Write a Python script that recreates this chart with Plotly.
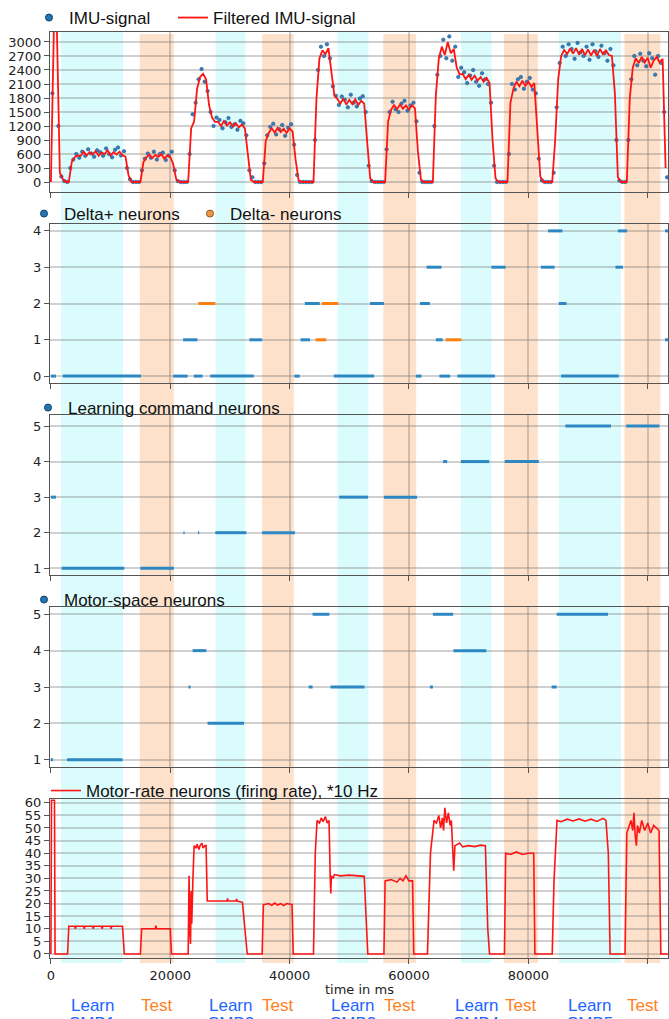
import plotly.graph_objects as go

W, H = 669, 1019

# ---------------- data ----------------
# IMU signal, filtered (sampled every 500 ms from 0 ms)
imu_filtered = [
    0, 3300, 3300, 200, 60, 0, 0, 430, 530, 570,
    560, 650, 570, 640, 590, 660, 560, 630, 600, 680, 570, 640, 590, 650, 580,
    540, 150, 0, 0, 0, 0,
    420, 530, 590, 510, 580, 540, 600, 500, 570, 540, 380, 60,
    0, 0, 0, 0,
    1150, 1300, 2000, 2250, 2320, 2200, 1650, 1380, 1290,
    1290, 1200, 1310, 1210, 1280, 1190, 1260, 1170, 1230, 1150,
    600, 50, 0, 0, 0, 0,
    880, 1050, 1150, 1060, 1160, 1070, 1140, 1050, 1150, 1080,
    480, 40, 0, 0, 0, 0, 0,
    1800, 2650, 2820, 2740, 2870, 2350, 1850,
    1780, 1680, 1790, 1660, 1760, 1670, 1770, 1650, 1740, 1680,
    850, 80, 0, 0, 0, 0, 0,
    1300, 1550, 1650, 1560, 1660, 1570, 1640, 1550, 1650, 1580,
    650, 50, 0, 0, 0, 0,
    1850, 2650, 2900, 2720, 3000, 2760, 2850, 2450, 2300,
    2320, 2200, 2300, 2190, 2280, 2170, 2250, 2150, 2230, 2120,
    900, 80, 0, 0, 0, 0,
    1700, 2000, 2150, 2050, 2170, 2060, 2150, 2040, 2120,
    1200, 120, 0, 0, 0, 0,
    900, 2200, 2700, 2830, 2740, 2860, 2750, 2870, 2730, 2850,
    2720, 2840, 2710, 2830, 2700, 2850, 2740, 2820, 2720, 2700,
    1900, 100, 0, 0, 0,
    1800, 2450, 2650, 2550, 2680, 2560, 2660, 2450, 2600, 2680, 2560, 2640, 300,
]
# IMU signal, raw samples (every 500 ms from 250 ms)
imu_raw = [
    1900, 3300, 1200, 120, 20, 0, 300, 480, 600, 520,
    650, 560, 700, 610, 540, 680, 640, 560, 720, 600, 530, 690, 740, 570, 660,
    300, 60, 0, 0, 0, 250,
    500, 610, 520, 650, 480, 600, 630, 470, 560, 650, 250, 20,
    0, 0, 0, 600,
    1450, 1700, 2200, 2420, 2150, 1950, 1500, 1200, 1380,
    1330, 1150, 1280, 1370, 1180, 1240, 1120, 1310, 1260, 1000,
    250, 100, 0, 0, 0, 400,
    1000, 1180, 1250, 1020, 1130, 1220, 990, 1160, 1240, 800,
    150, 0, 0, 0, 0, 0, 900,
    2400, 2900, 2700, 2950, 2650, 2050, 1850,
    1650, 1830, 1760, 1600, 1870, 1700, 1620, 1790, 1840, 1500,
    350, 20, 0, 0, 0, 0, 700,
    1500, 1720, 1560, 1500, 1680, 1740, 1530, 1640, 1700, 1300,
    200, 0, 0, 0, 0, 1200,
    2300, 2700, 3050, 2650, 3120, 2600, 2900, 2250, 2450,
    2350, 2120, 2280, 2400, 2150, 2060, 2330, 2200, 2100, 1700,
    350, 0, 0, 0, 0, 600,
    2100, 1980, 2200, 2250, 2000, 2150, 2230, 1980, 1900,
    500, 40, 0, 0, 0, 200,
    1600, 2550, 2900, 2700, 2950, 2850, 2640, 2980, 2780, 2700,
    2900, 2620, 2950, 2800, 2680, 2920, 2760, 2600, 2850, 2500,
    900, 30, 0, 0, 900,
    2200, 2700, 2500, 2750, 2600, 2480, 2760, 2650, 2300, 2700, 2550, 1500, 100,
]
imu_t = [500 * i for i in range(len(imu_filtered))]
raw_t = [250 + 500 * i for i in range(len(imu_raw))]

# Motor-rate neurons (firing rate, *10 Hz): breakpoints (ms, value)
mr_t = [0, 100, 600, 700, 2800, 3000, 4000, 4100, 4200, 5500, 5600, 5700, 7000, 7100, 7200,
        8500, 8600, 8700, 10000, 10100, 10200, 12000, 12300, 15000, 15200, 17500, 17600, 17700,
        20000, 20200, 23000, 23150, 23300, 23400, 23500, 23600, 23800, 24000, 24300, 24500,
        24800, 25000, 25300, 25500, 25800, 26000, 26200, 29500, 29600, 29700, 31000, 31100,
        31200, 32100, 32500, 32900, 35400, 35600, 36500, 37000, 37500, 38000, 38500, 39000,
        39500, 40400, 40600, 44000, 44300, 44600, 45000, 45300, 45600, 46000, 46300, 46600,
        46800, 46900, 47000, 47300, 47500, 48500, 50000, 51500, 52500, 52900, 53100, 55800,
        56000, 57000, 58000, 58500, 59000, 59500, 60000, 60600, 60800, 63100, 63600, 64200,
        64600, 65000, 65300, 65600, 65800, 66000, 66300, 66600, 66900, 67100, 67300, 67500,
        67700, 68500, 69000, 70000, 71000, 72000, 72800, 73200, 73500, 76000, 76200, 77000,
        78000, 79000, 80000, 80900, 81100, 84000, 84300, 84600, 84800, 85500, 86500, 87500,
        88500, 89500, 90500, 91500, 92500, 93000, 93400, 93700, 96200, 96500, 96800, 97200,
        97500, 97700, 97900, 98100, 98300, 98600, 99000, 99500, 100000, 100500, 101000,
        101400, 101900, 102200, 103400]
mr_v = [0, 61, 61, 0, 0, 11, 11, 10, 11, 11, 10, 11, 11, 10, 11,
        11, 10, 11, 11, 10, 11, 11, 0, 0, 10, 10, 11.2, 10,
        10, 0, 0, 31, 8, 4, 25, 12, 30, 43, 42, 43.5,
        41.5, 43, 44, 42, 43, 43, 21, 21, 22, 21, 21, 21.8,
        21, 20.5, 10, 0, 0, 19.5, 20, 19.3, 20.2, 19.4, 20, 19.2,
        20, 19.6, 0, 0, 40, 53, 52, 54, 52.5, 54.5, 52, 53,
        31, 24, 31, 30, 31.5, 31, 31.3, 31, 30.8, 10, 0, 0,
        29, 29.5, 28.5, 30, 29, 31, 29, 29, 0, 0, 40, 53,
        52, 55, 50, 54, 49, 58, 52, 56, 51, 53, 43, 33,
        43, 44, 42.5, 43, 42.6, 43.2, 43, 10, 0, 0, 40, 39.5,
        40.5, 39.5, 40, 40, 0, 0, 29, 45, 53, 52.5, 53.5, 52.8,
        53.6, 52.7, 53.5, 52.6, 53.8, 53, 40, 0, 0, 48, 50, 53,
        49, 56, 47, 43, 51, 48, 53, 49, 52, 48, 51,
        50, 49, 0, 0]

# Spike raster segments (start ms, end ms, neuron index)
dplus_start = [0, 2000, 20500, 23950, 26700, 40800, 47400, 61150, 65100, 68100, 85500,
               22150, 33250, 41850, 64500, 102900,
               42550, 53450, 61850, 85100,
               62950, 73800, 82100, 94600,
               83300, 95000, 102900]
dplus_end = [850, 15100, 22900, 25400, 34000, 41700, 54150, 62100, 66900, 74400, 95150,
             24550, 35400, 43400, 65650, 103400,
             45050, 55800, 63500, 86400,
             65450, 76200, 84400, 95850,
             85700, 96550, 103400]
dplus_neuron = [0, 0, 0, 0, 0, 0, 0, 0, 0, 0, 0,
                1, 1, 1, 1, 1,
                2, 2, 2, 2,
                3, 3, 3, 3,
                4, 4, 4]

dminus_start = [24700, 45400, 44350, 66150]
dminus_end = [27550, 48150, 46150, 68800]
dminus_neuron = [2, 2, 1, 1]

lc_start = [0, 1800, 15000, 22200, 24650, 27550, 35400, 48300, 55800, 65700, 68700, 76050, 86200, 96400]
lc_end = [850, 12300, 20600, 22400, 24850, 32750, 40900, 53150, 61350, 66400, 73450, 81750, 93850, 101950]
lc_neuron = [3, 1, 1, 2, 2, 2, 2, 3, 3, 4, 4, 4, 5, 5]

ms_start = [0, 2700, 23050, 23750, 26250, 43200, 43850, 46850, 63500, 64000, 67450, 83900, 84750]
ms_end = [350, 12000, 23400, 26050, 32350, 43850, 46650, 52550, 64000, 67400, 72950, 84750, 93350]
ms_neuron = [1, 1, 3, 4, 2, 3, 5, 3, 3, 5, 4, 3, 5]

# Learning / test phases (ms)
learn_start = [1700, 27600, 48000, 68700, 85100]
learn_end = [12100, 32600, 53200, 73800, 95500]
learn_names = ["SMB1", "SMB2", "SMB3", "SMB4", "SMB5"]
test_start = [14900, 35400, 55700, 75900, 96100]
test_end = [20600, 40700, 61200, 81600, 102100]

x_ticks = [0, 20000, 40000, 60000, 80000, 100000]

# ---------------- styling ----------------
BLUE = "#1f77b4"
SEG_BLUE = "rgb(45,135,195)"
ORANGE = "#ff7f0e"
RED = "rgb(255,20,20)"
LEG_FONT = dict(family="Liberation Sans, Arial, sans-serif", size=17, color="#111")
TICK_FONT = dict(family="DejaVu Sans, sans-serif", size=13, color="#222")
LEG_MARK = dict(size=7, color=BLUE, line=dict(width=1, color="rgb(20,60,100)"))


def py(p):
    return 1 - p / H


def segs(starts, ends, levels):
    xs, ys = [], []
    for a, b, lv in zip(starts, ends, levels):
        xs += [a, b, None]
        ys += [lv, lv, None]
    return xs, ys


fig = go.Figure()

# Panel 1: IMU
fig.add_trace(go.Scatter(x=raw_t, y=imu_raw, mode="markers", name="IMU-signal",
                         marker=dict(size=3.5, color="rgb(50,130,195)",
                                     line=dict(width=0.5, color="rgb(20,70,120)")),
                         showlegend=False, xaxis="x", yaxis="y"))
fig.add_trace(go.Scatter(x=[None], y=[None], mode="markers", name="IMU-signal",
                         marker=LEG_MARK, xaxis="x", yaxis="y", legend="legend"))
fig.add_trace(go.Scatter(x=imu_t, y=imu_filtered, mode="lines", name="Filtered IMU-signal",
                         line=dict(color=RED, width=1.8), xaxis="x", yaxis="y", legend="legend2"))

# Panel 2: Delta neurons
x, y = segs(dplus_start, dplus_end, dplus_neuron)
fig.add_trace(go.Scatter(x=x, y=y, mode="lines", line=dict(color=SEG_BLUE, width=3),
                         showlegend=False, xaxis="x2", yaxis="y2"))
x, y = segs(dminus_start, dminus_end, dminus_neuron)
fig.add_trace(go.Scatter(x=x, y=y, mode="lines", line=dict(color=ORANGE, width=3),
                         showlegend=False, xaxis="x2", yaxis="y2"))
fig.add_trace(go.Scatter(x=[None], y=[None], mode="markers", name="Delta+ neurons",
                         marker=LEG_MARK, xaxis="x2", yaxis="y2", legend="legend3"))
fig.add_trace(go.Scatter(x=[None], y=[None], mode="markers", name="Delta- neurons",
                         marker=dict(size=7, color="rgb(240,150,70)", line=dict(width=1, color="rgb(140,90,40)")),
                         xaxis="x2", yaxis="y2", legend="legend4"))

# Panel 3: Learning command
x, y = segs(lc_start, lc_end, lc_neuron)
fig.add_trace(go.Scatter(x=x, y=y, mode="lines", line=dict(color=SEG_BLUE, width=3),
                         showlegend=False, xaxis="x3", yaxis="y3"))
fig.add_trace(go.Scatter(x=[None], y=[None], mode="markers", name="Learning command neurons",
                         marker=LEG_MARK, xaxis="x3", yaxis="y3", legend="legend5"))

# Panel 4: Motor-space
x, y = segs(ms_start, ms_end, ms_neuron)
fig.add_trace(go.Scatter(x=x, y=y, mode="lines", line=dict(color=SEG_BLUE, width=3),
                         showlegend=False, xaxis="x4", yaxis="y4"))
fig.add_trace(go.Scatter(x=[None], y=[None], mode="markers", name="Motor-space neurons",
                         marker=LEG_MARK, xaxis="x4", yaxis="y4", legend="legend6"))

# Panel 5: Motor-rate
fig.add_trace(go.Scatter(x=mr_t, y=mr_v, mode="lines", name="Motor-rate neurons (firing rate), *10 Hz",
                         line=dict(color=RED, width=1.6), xaxis="x5", yaxis="y5", legend="legend7"))

# ---------------- layout ----------------
panels = [(32, 192), (224, 383), (415, 575), (607, 767), (799, 958)]
yranges = [[-214, 3214], [-0.19, 4.19], [0.81, 5.31], [0.8, 5.2], [-1.6, 61.5]]
ytickvals = [list(range(0, 3001, 300)), [0, 1, 2, 3, 4], [1, 2, 3, 4, 5], [1, 2, 3, 4, 5],
             list(range(0, 61, 5))]
XR = [-150, 103400]
GRID = "rgba(120,120,120,0.35)"
FRAME = "#555"

layout = dict(width=W, height=H, margin=dict(l=50, r=1, t=0, b=0, autoexpand=False),
              paper_bgcolor="white", plot_bgcolor="rgba(0,0,0,0)", showlegend=True)
for i, ((top, bot), yr, tv) in enumerate(zip(panels, yranges, ytickvals)):
    sfx = "" if i == 0 else str(i + 1)
    layout["xaxis" + sfx] = dict(
        domain=[0, 1], range=XR, anchor="y" + sfx, tickvals=x_ticks,
        showticklabels=(i == 4), ticks="outside", ticklen=5, tickcolor=FRAME,
        tickformat="d", tickfont=TICK_FONT, showgrid=True, gridcolor=GRID, gridwidth=1.5,
        showline=True, linecolor=FRAME, linewidth=1.2, mirror=True, zeroline=False,
        automargin=False, **({} if i == 0 else {"matches": "x"}))
    layout["yaxis" + sfx] = dict(
        domain=[py(bot), py(top)], range=yr, anchor="x" + sfx, tickvals=tv,
        ticks="outside", ticklen=5, tickcolor=FRAME, tickfont=TICK_FONT,
        showgrid=True, gridcolor=GRID, gridwidth=1.5, showline=True, linecolor=FRAME,
        linewidth=1.2, mirror=True, zeroline=False, automargin=False)

# legends (one per entry, placed in container pixels)
leg_pos = {"legend": (29, 18), "legend2": (173, 18), "legend3": (24, 214), "legend4": (190, 214),
           "legend5": (28, 408), "legend6": (24, 600), "legend7": (46, 791)}
for name, (lx, ly) in leg_pos.items():
    layout[name] = dict(x=lx / W, y=1 - ly / H, xref="container", yref="container",
                        xanchor="left", yanchor="middle", orientation="h",
                        bgcolor="rgba(0,0,0,0)", borderwidth=0, font=LEG_FONT,
                        itemwidth=30)

# phase bands
shapes = []
for a, b in zip(learn_start, learn_end):
    shapes.append(dict(type="rect", xref="x", yref="paper", x0=a, x1=b, y0=py(963), y1=py(32),
                       fillcolor="rgb(219,252,252)", line=dict(width=0), layer="below"))
for a, b in zip(test_start, test_end):
    shapes.append(dict(type="rect", xref="x", yref="paper", x0=a, x1=b, y0=py(963), y1=py(34),
                       fillcolor="rgb(253,225,202)", line=dict(width=0), layer="below"))
layout["shapes"] = shapes

ann = [dict(text="time in ms", xref="paper", yref="paper", x=0.5, y=py(989), showarrow=False,
            xanchor="center", yanchor="middle", font=dict(family="DejaVu Sans, sans-serif", size=13, color="#222"))]
for a, b, nm in zip(learn_start, learn_end, learn_names):
    c = (a + b) / 2
    ann.append(dict(text="Learn", xref="x5", yref="paper", x=c, y=py(1005), showarrow=False,
                    xanchor="center", yanchor="middle",
                    font=dict(family="Liberation Sans, Arial, sans-serif", size=17, color="rgb(30,100,255)")))
    ann.append(dict(text=nm, xref="x5", yref="paper", x=c, y=py(1024), showarrow=False,
                    xanchor="center", yanchor="middle",
                    font=dict(family="Liberation Sans, Arial, sans-serif", size=17, color="rgb(30,100,255)")))
for a, b in zip(test_start, test_end):
    c = (a + b) / 2
    ann.append(dict(text="Test", xref="x5", yref="paper", x=c, y=py(1005), showarrow=False,
                    xanchor="center", yanchor="middle",
                    font=dict(family="Liberation Sans, Arial, sans-serif", size=17, color="rgb(255,128,30)")))
layout["annotations"] = ann

fig.update_layout(**layout)
fig.write_html("out.html", config={"displayModeBar": False},
               post_script="document.body.style.margin='0px';document.body.style.overflow='hidden';")
